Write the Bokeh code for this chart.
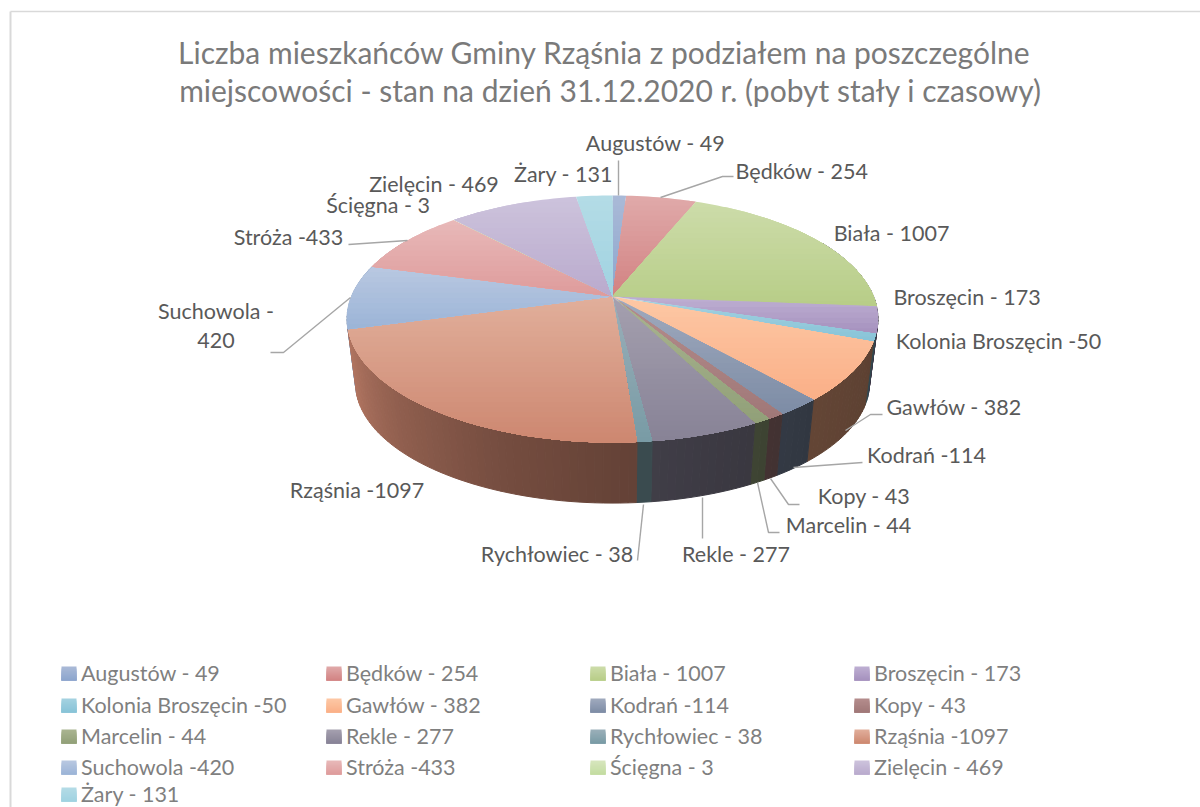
import numpy as np
from bokeh.plotting import figure
from bokeh.models import Range1d
from bokeh.core.properties import value
from bokeh.embed import file_html
from bokeh.resources import INLINE

title_lines = ["Liczba mieszkańców Gminy Rząśnia z podziałem na poszczególne",
               "miejscowości - stan na dzień 31.12.2020 r. (pobyt stały i czasowy)"]
places = ["Augustów", "Będków", "Biała", "Broszęcin", "Kolonia Broszęcin", "Gawłów", "Kodrań", "Kopy",
          "Marcelin", "Rekle", "Rychłowiec", "Rząśnia", "Suchowola", "Stróża", "Ścięgna", "Zielęcin", "Żary"]
residents = [49, 254, 1007, 173, 50, 382, 114, 43, 44, 277, 38, 1097, 420, 433, 3, 469, 131]
labels = ["Augustów - 49", "Będków - 254", "Biała - 1007", "Broszęcin - 173", "Kolonia Broszęcin -50",
          "Gawłów - 382", "Kodrań -114", "Kopy - 43", "Marcelin - 44", "Rekle - 277", "Rychłowiec - 38",
          "Rząśnia -1097", "Suchowola -420", "Stróża -433", "Ścięgna - 3", "Zielęcin - 469", "Żary - 131"]

light = [(170,186,215),(224,170,170),(205,220,170),(190,175,210),(165,210,225),(253,200,165),(160,170,190),
         (180,140,140),(170,180,145),(165,160,175),(155,175,185),(225,175,155),(185,200,225),(232,185,185),
         (215,230,190),(205,195,220),(180,220,230)]
dark = [(140,165,205),(210,130,130),(183,205,135),(165,145,190),(135,195,215),(250,175,135),(125,140,165),
        (160,120,120),(145,160,120),(135,130,150),(120,155,165),(205,135,112),(155,180,215),(222,155,155),
        (195,220,160),(185,170,205),(160,210,225)]

W, H = 1200, 807
p = figure(width=W, height=H, x_range=Range1d(0, W), y_range=Range1d(H, 0),
           output_backend="svg", toolbar_location=None, min_border=0, outline_line_color=None)
p.xaxis.visible = False
p.yaxis.visible = False
p.grid.visible = False

FONT = value("Lato")
CX, CY, K, AY, BX = 612.0, 296.0, 0.182, 119.4, 261.0
SX, SY, OFF = 0.968, 0.97, 65.0


def top(theta):
    t = np.radians(theta)
    u, v = np.sin(t), -np.cos(t)
    s = 1 / (1 - K * v)
    return BX * u * s, AY * v * s


def mix(a, b, f):
    return tuple(int(round(a[i] + (b[i] - a[i]) * f)) for i in range(3))


def css(c):
    return "#%02x%02x%02x" % tuple(max(0, min(255, x)) for x in c)


def clip_from(poly, y0):
    out = []
    for i in range(len(poly)):
        a, b = poly[i], poly[(i + 1) % len(poly)]
        ka, kb = a[1] >= y0, b[1] >= y0
        if ka:
            out.append(a)
        if ka != kb:
            f = (y0 - a[1]) / (b[1] - a[1])
            out.append((a[0] + (b[0] - a[0]) * f, y0))
    return out


# cumulative angles from the values
total = sum(residents)
edges = np.concatenate([[0], np.cumsum(residents)]) / total * 360.0

# wall brightness by angle
ang_pts = [60, 100, 140, 170, 200, 225, 250, 275, 300]
bri_pts = [.35, .36, .40, .47, .57, .70, .86, .92, .92]

wx, wy, wc = [], [], []
segs = []
for i in range(len(residents)):
    a0, a1 = edges[i], edges[i + 1]
    n = max(1, int((a1 - a0) / 1.5))
    th = np.linspace(a0, a1, n + 1)
    for j in range(n):
        segs.append((th[j], th[j + 1], i))
segs = [s for s in segs if 60 < s[0] < 300]
segs.sort(key=lambda s: -abs(180 - (s[0] + s[1]) / 2))
for t0, t1, i in segs:
    x0, y0 = top(t0)
    x1, y1 = top(t1)
    xs = [x0, x1, x1 * SX, x0 * SX]
    ys = [y0, y1, y1 * SY + OFF, y0 * SY + OFF]
    f = np.interp((t0 + t1) / 2, ang_pts, bri_pts)
    c = css(tuple(int(f * d) for d in dark[i]))
    wx.append([CX + q for q in xs])
    wy.append([CY + q for q in ys])
    wc.append(c)
p.patches(wx, wy, fill_color=wc, line_color=wc, line_width=1)

# top face: each slice shaded by horizontal bands, lighter at its back
fx, fy, fc = [], [], []
for i in range(len(residents)):
    a0, a1 = edges[i], edges[i + 1]
    th = np.linspace(a0, a1, max(3, int((a1 - a0) / 1.5) + 2))
    poly = [(CX, CY)] + [(CX + top(t)[0], CY + top(t)[1]) for t in th]
    ymin = min(q[1] for q in poly)
    ymax = max(q[1] for q in poly)
    nb = max(1, int((ymax - ymin) / 5))
    ed = np.linspace(ymin, ymax, nb + 1)
    for b in range(nb):
        r = clip_from(poly, ed[b])
        if len(r) < 3:
            continue
        fx.append([q[0] for q in r])
        fy.append([q[1] for q in r])
        fc.append(css(mix(light[i], dark[i], (b + .5) / nb)))
p.patches(fx, fy, fill_color=fc, line_color=None)

# frame
p.line([10, 10], [11, 807], line_color="#d9d9d9", line_width=2)
p.line([10, 1200], [11, 11], line_color="#d9d9d9", line_width=1.5)

# title
p.text([604, 610], [51, 89], text=title_lines, text_font=FONT, text_font_size="30px", text_color="#7a7a7a",
       text_align="center", text_baseline="middle")

# leader lines
leaders = [([618, 618], [160, 195]), ([660, 722, 733], [197, 176, 176]), ([845, 870, 882], [430, 414, 414]),
           ([793, 862], [467, 462]), ([770, 788, 799], [478, 504, 504]), ([757, 768, 779], [482, 532, 532]),
           ([702, 702], [497, 538]), ([643, 637], [504, 560]), ([270, 283, 350], [352, 352, 297]),
           ([348, 407], [244, 240])]
p.multi_line([l[0] for l in leaders], [l[1] for l in leaders], line_color="#a6a6a6", line_width=1.4)

# data labels
lab_text = ["Augustów - 49", "Będków - 254", "Biała - 1007", "Broszęcin - 173", "Kolonia Broszęcin -50",
            "Gawłów - 382", "Kodrań -114", "Kopy - 43", "Marcelin - 44", "Rekle - 277", "Rychłowiec - 38",
            "Rząśnia -1097", "Suchowola -", "420", "Stróża -433", "Ścięgna - 3", "Zielęcin - 469", "Żary - 131"]
lab_x = [655, 801.5, 891, 966.5, 998, 953.5, 926, 863.5, 848, 735.5, 556.5, 356.5, 215.5, 215.5, 288, 377.5, 433.5, 563]
lab_y = [142, 170, 232, 296, 340, 406, 454, 495, 524, 553, 553, 489, 310, 340, 236, 204, 183, 173]
p.text(lab_x, lab_y, text=lab_text, text_font=FONT, text_font_size="21.5px", text_color="#595959",
       text_align="center", text_baseline="middle")

# legend
col_x = [61, 326, 590, 854]
row_y = [673, 705, 736, 767, 794]
lx, ly, lc = [], [], []
tx, ty = [], []
for i, lab in enumerate(labels):
    x0 = col_x[i % 4]
    yc = row_y[i // 4]
    for b in range(7):
        y0 = yc - 7 + b * 2
        lx.append([x0, x0 + 15, x0 + 15, x0])
        ly.append([y0, y0, yc + 7, yc + 7])
        lc.append(css(mix(light[i], dark[i], (b + .5) / 7)))
    tx.append(x0 + 19.5)
    ty.append(yc - 1)
p.patches(lx, ly, fill_color=lc, line_color=None)
p.text(tx, ty, text=labels, text_font=FONT, text_font_size="21.5px", text_color="#7f7f7f",
       text_align="left", text_baseline="middle")

open("out.html", "w").write(file_html(p, INLINE))
